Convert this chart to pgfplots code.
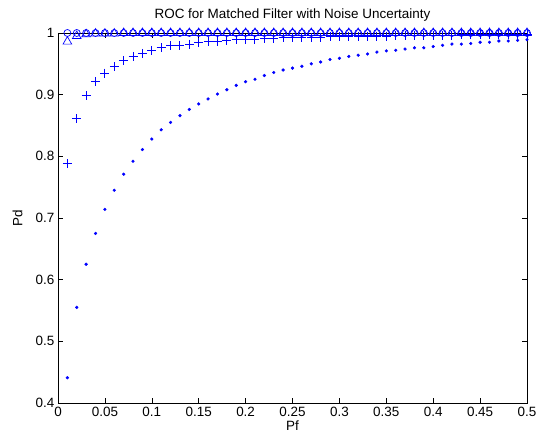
\documentclass[border=0pt]{standalone}
\usepackage{pgfplots}
\pgfplotsset{compat=1.18}
\usepackage{fontspec}
\setmainfont{Liberation Sans}
\definecolor{mblue}{RGB}{0,0,255}
\begin{document}
\fontsize{13.5}{16}\selectfont
\begin{tikzpicture}[x=1bp,y=1bp]
\useasboundingbox (0,0) rectangle (541,436);
\begin{axis}[
  at={(58bp,33bp)}, anchor=south west,
  scale only axis, width=469bp, height=370bp,
  xmin=0, xmax=0.5, ymin=0.4, ymax=1,
  xtick={0,0.05,0.1,0.15,0.2,0.25,0.3,0.35,0.4,0.45,0.5},
  xticklabels={0,0.05,0.1,0.15,0.2,0.25,0.3,0.35,0.4,0.45,0.5},
  ytick={0.4,0.5,0.6,0.7,0.8,0.9,1},
  yticklabels={0.4,0.5,0.6,0.7,0.8,0.9,1},
  tick align=inside, major tick length=5bp,
  tick style={black, line width=0.6bp},
  axis line style={black, line width=0.8bp},
  ticklabel style={font=\fontsize{13.5}{16}\selectfont},
  xticklabel style={yshift=1bp},
  yticklabel style={xshift=1bp},
  /pgf/number format/assume math mode=true,
  xlabel={Pf}, ylabel={Pd},
  label style={font=\fontsize{13.5}{16}\selectfont},
  xlabel style={yshift=5bp},
  ylabel style={yshift=4bp},
  title={ROC for Matched Filter with Noise Uncertainty},
  title style={font=\fontsize{13.5}{16}\selectfont, yshift=1bp},
  clip=false,
]
\addplot[only marks, color=mblue, mark=*, mark size=1.4bp, mark options={draw=mblue, fill=mblue}] coordinates {
(0.01,0.441)(0.02,0.555)(0.03,0.625)(0.04,0.675)(0.05,0.714)(0.06,0.745)(0.07,0.771)(0.08,0.792)(0.09,0.811)(0.10,0.828)
(0.11,0.843)(0.12,0.855)(0.13,0.866)(0.14,0.876)(0.15,0.885)(0.16,0.893)(0.17,0.901)(0.18,0.908)(0.19,0.915)(0.20,0.921)
(0.21,0.925)(0.22,0.931)(0.23,0.936)(0.24,0.940)(0.25,0.943)(0.26,0.946)(0.27,0.950)(0.28,0.953)(0.29,0.957)(0.30,0.959)
(0.31,0.962)(0.32,0.964)(0.33,0.966)(0.34,0.969)(0.35,0.971)(0.36,0.972)(0.37,0.974)(0.38,0.976)(0.39,0.976)(0.40,0.978)
(0.41,0.980)(0.42,0.982)(0.43,0.982)(0.44,0.983)(0.45,0.985)(0.46,0.985)(0.47,0.987)(0.48,0.987)(0.49,0.988)(0.50,0.989)
};
\addplot[only marks, color=mblue, mark=+, mark size=4.5bp, mark options={draw=mblue, line width=1bp}] coordinates {
(0.01,0.788)(0.02,0.861)(0.03,0.898)(0.04,0.921)(0.05,0.935)(0.06,0.945)(0.07,0.955)(0.08,0.962)(0.09,0.967)(0.10,0.972)
(0.11,0.976)(0.12,0.979)(0.13,0.980)(0.14,0.982)(0.15,0.984)(0.16,0.986)(0.17,0.987)(0.18,0.988)(0.19,0.989)(0.20,0.990)
(0.21,0.990)(0.22,0.991)(0.23,0.991)(0.24,0.992)(0.25,0.992)(0.26,0.993)(0.27,0.993)(0.28,0.993)(0.29,0.994)(0.30,0.994)
(0.31,0.995)(0.32,0.995)(0.33,0.995)(0.34,0.995)(0.35,0.995)(0.36,0.996)(0.37,0.996)(0.38,0.996)(0.39,0.996)(0.40,0.996)
(0.41,0.996)(0.42,0.996)(0.43,0.997)(0.44,0.997)(0.45,0.997)(0.46,0.997)(0.47,0.997)(0.48,0.997)(0.49,0.997)(0.50,0.997)
};
\addplot[only marks, color=mblue, mark=triangle, mark size=5bp, mark options={draw=mblue, line width=0.7bp}] coordinates {
(0.01,0.986)(0.02,0.995)(0.03,0.998)(0.04,0.999)(0.05,0.999)(0.06,0.999)(0.07,1)(0.08,1)(0.09,1)(0.10,1)
(0.11,1)(0.12,1)(0.13,1)(0.14,1)(0.15,1)(0.16,1)(0.17,1)(0.18,1)(0.19,1)(0.20,1)
(0.21,1)(0.22,1)(0.23,1)(0.24,1)(0.25,1)(0.26,1)(0.27,1)(0.28,1)(0.29,1)(0.30,1)
(0.31,1)(0.32,1)(0.33,1)(0.34,1)(0.35,1)(0.36,1)(0.37,1)(0.38,1)(0.39,1)(0.40,1)
(0.41,1)(0.42,1)(0.43,1)(0.44,1)(0.45,1)(0.46,1)(0.47,1)(0.48,1)(0.49,1)(0.50,1)
};
\addplot[only marks, color=mblue, mark=o, mark size=3.5bp, mark options={draw=mblue, line width=0.7bp}] coordinates {
(0.01,1)(0.02,1)(0.03,1)(0.04,1)(0.05,1)(0.06,1)(0.07,1)(0.08,1)(0.09,1)(0.10,1)
(0.11,1)(0.12,1)(0.13,1)(0.14,1)(0.15,1)(0.16,1)(0.17,1)(0.18,1)(0.19,1)(0.20,1)
(0.21,1)(0.22,1)(0.23,1)(0.24,1)(0.25,1)(0.26,1)(0.27,1)(0.28,1)(0.29,1)(0.30,1)
(0.31,1)(0.32,1)(0.33,1)(0.34,1)(0.35,1)(0.36,1)(0.37,1)(0.38,1)(0.39,1)(0.40,1)
(0.41,1)(0.42,1)(0.43,1)(0.44,1)(0.45,1)(0.46,1)(0.47,1)(0.48,1)(0.49,1)(0.50,1)
};
\end{axis}
\end{tikzpicture}
\end{document}
